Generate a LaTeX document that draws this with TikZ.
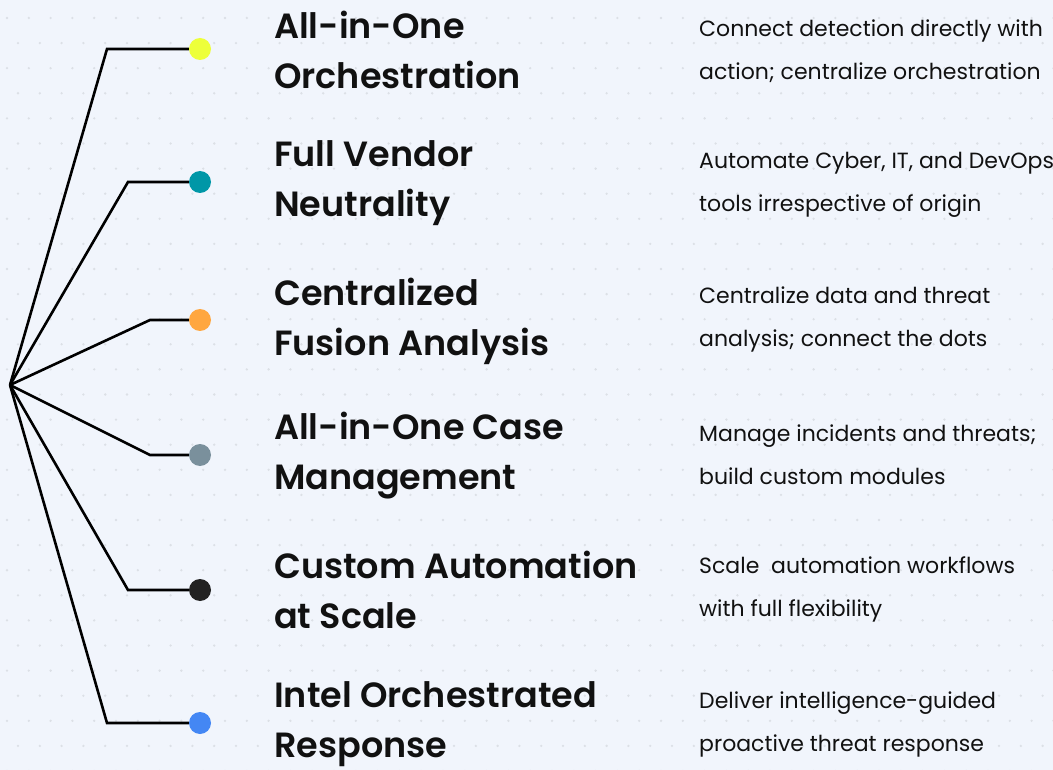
\documentclass[tikz,border=0pt]{standalone}
\usepackage{fontspec}
\IfFontExistsTF{Poppins SemiBold}
  {\setmainfont{Poppins}[BoldFont={Poppins SemiBold}]}
  {\setmainfont{Poppins}}
\definecolor{bg}{HTML}{F1F5FC}
\definecolor{griddot}{HTML}{DCE0E6}
\definecolor{cyellow}{HTML}{EDFF3A}
\definecolor{cteal}{HTML}{0097A7}
\definecolor{corange}{HTML}{FFA73F}
\definecolor{cgray}{HTML}{7A909C}
\definecolor{cdark}{HTML}{222222}
\definecolor{cblue}{HTML}{4487F4}
\definecolor{txt}{HTML}{111111}
\begin{document}
\begin{tikzpicture}[x=1pt,y=-1pt,
  branch/.style={line width=2.6pt, black, line join=miter},
  bullet/.style={circle, minimum size=22pt, inner sep=0pt, draw=none},
  title/.style={anchor=west, align=left, inner sep=0pt, text=txt,
    font=\fontsize{35}{50}\selectfont\bfseries},
  desc/.style={anchor=west, align=left, inner sep=0pt, text=txt,
    font=\fontsize{22}{43}\selectfont}]
\fill[bg] (0,0) rectangle (1053,770);
\useasboundingbox (0,0) rectangle (1053,770);
% dotted background grid
\foreach \r in {0,...,30}{
  \pgfmathsetmacro{\yy}{18+25.1*\r}
  \pgfmathsetmacro{\xo}{mod(\r,2)==0 ? 7 : 18}
  \foreach \c in {0,...,48}{
    \fill[griddot] ({\xo+21.8*\c},\yy) circle (1.3pt);
  }
}
\coordinate (hub) at (10,385);
% bullets
\node[bullet, fill=cyellow] (d1) at (200,49) {};
\node[bullet, fill=cteal]   (d2) at (200,182) {};
\node[bullet, fill=corange] (d3) at (200,320) {};
\node[bullet, fill=cgray]   (d4) at (200,455) {};
\node[bullet, fill=cdark]   (d5) at (200,590) {};
\node[bullet, fill=cblue]   (d6) at (200,723) {};
% elbows
\coordinate (e1) at (107,49);
\coordinate (e2) at (128,182);
\coordinate (e3) at (150,320);
\coordinate (e4) at (150,455);
\coordinate (e5) at (128,590);
\coordinate (e6) at (107,723);
\foreach \i in {1,...,6}{
  \draw[branch] (hub) -- (e\i) -- (d\i.west);
}
% titles
\node[title] (t1) at (274,50) {All-in-One\\Orchestration};
\node[title] (t2) at (274,183) {Full Vendor\\Neutrality};
\node[title] (t3) at (274,321) {Centralized\\Fusion Analysis};
\node[title] (t4) at (274,456) {All-in-One Case\\Management};
\node[title] (t5) at (274,590) {Custom Automation\\at Scale};
\node[title] (t6) at (274,724) {Intel Orchestrated\\Response};
% descriptions
\node[desc] (s1) at (699,51) {Connect detection directly with\\action; centralize orchestration};
\node[desc] (s2) at (699,185) {Automate Cyber, IT, and DevOps\\tools irrespective of origin};
\node[desc] (s3) at (699,319) {Centralize data and threat\\analysis; connect the dots};
\node[desc] (s4) at (699,455) {Manage incidents and threats;\\build custom modules};
\node[desc] (s5) at (699,589) {Scale\ \ automation workflows\\with full flexibility};
\node[desc] (s6) at (699,724) {Deliver intelligence-guided\\proactive threat response};
\end{tikzpicture}
\end{document}
